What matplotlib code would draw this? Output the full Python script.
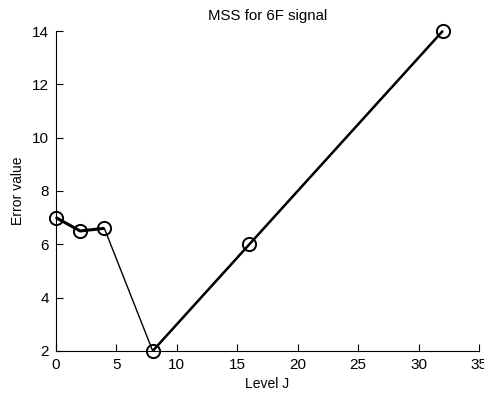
import matplotlib
matplotlib.use("Agg")
import matplotlib.pyplot as plt

levels = [0, 2, 4, 8, 16, 32]
errors = [7.0, 6.5, 6.6, 2.0, 6.0, 14.0]

x_ticks = [0, 5, 10, 15, 20, 25, 30, 35]
y_ticks = [2, 4, 6, 8, 10, 12, 14]

plt.rcParams['font.family'] = ['Liberation Sans', 'DejaVu Sans']
plt.rcParams['font.size'] = 10

fig = plt.figure(figsize=(4.85, 3.93), dpi=100)
ax = fig.add_axes([0.1155, 0.107, 0.872, 0.814])

# thin connecting line through all points, heavier strokes on the outer runs
ax.plot(levels, errors, color='black', lw=1.0, clip_on=False)
ax.plot(levels[:3], errors[:3], color='black', lw=2.2, solid_capstyle='butt', clip_on=False)
ax.plot(levels[3:], errors[3:], color='black', lw=1.8, solid_capstyle='butt', clip_on=False)
ax.plot(levels, errors, linestyle='none', marker='o', markersize=9.5,
        markerfacecolor='none', markeredgecolor='black', markeredgewidth=1.4,
        clip_on=False, zorder=5)

ax.set_xlim(0, 35)
ax.set_ylim(2, 14)
ax.set_xticks(x_ticks)
ax.set_yticks(y_ticks)
ax.tick_params(direction='in', length=5, width=0.8, labelsize=11)
ax.tick_params(axis='x', pad=5)
ax.tick_params(axis='y', pad=5)
ax.spines['top'].set_visible(False)
ax.spines['right'].set_visible(False)
for s in ('left', 'bottom'):
    ax.spines[s].set_linewidth(0.8)

ax.set_xlabel('Level J', labelpad=4)
ax.set_ylabel('Error value', labelpad=5)
ax.set_title('MSS for 6F signal', fontsize=10.8, pad=8)

fig.savefig('out.png', dpi=100)
